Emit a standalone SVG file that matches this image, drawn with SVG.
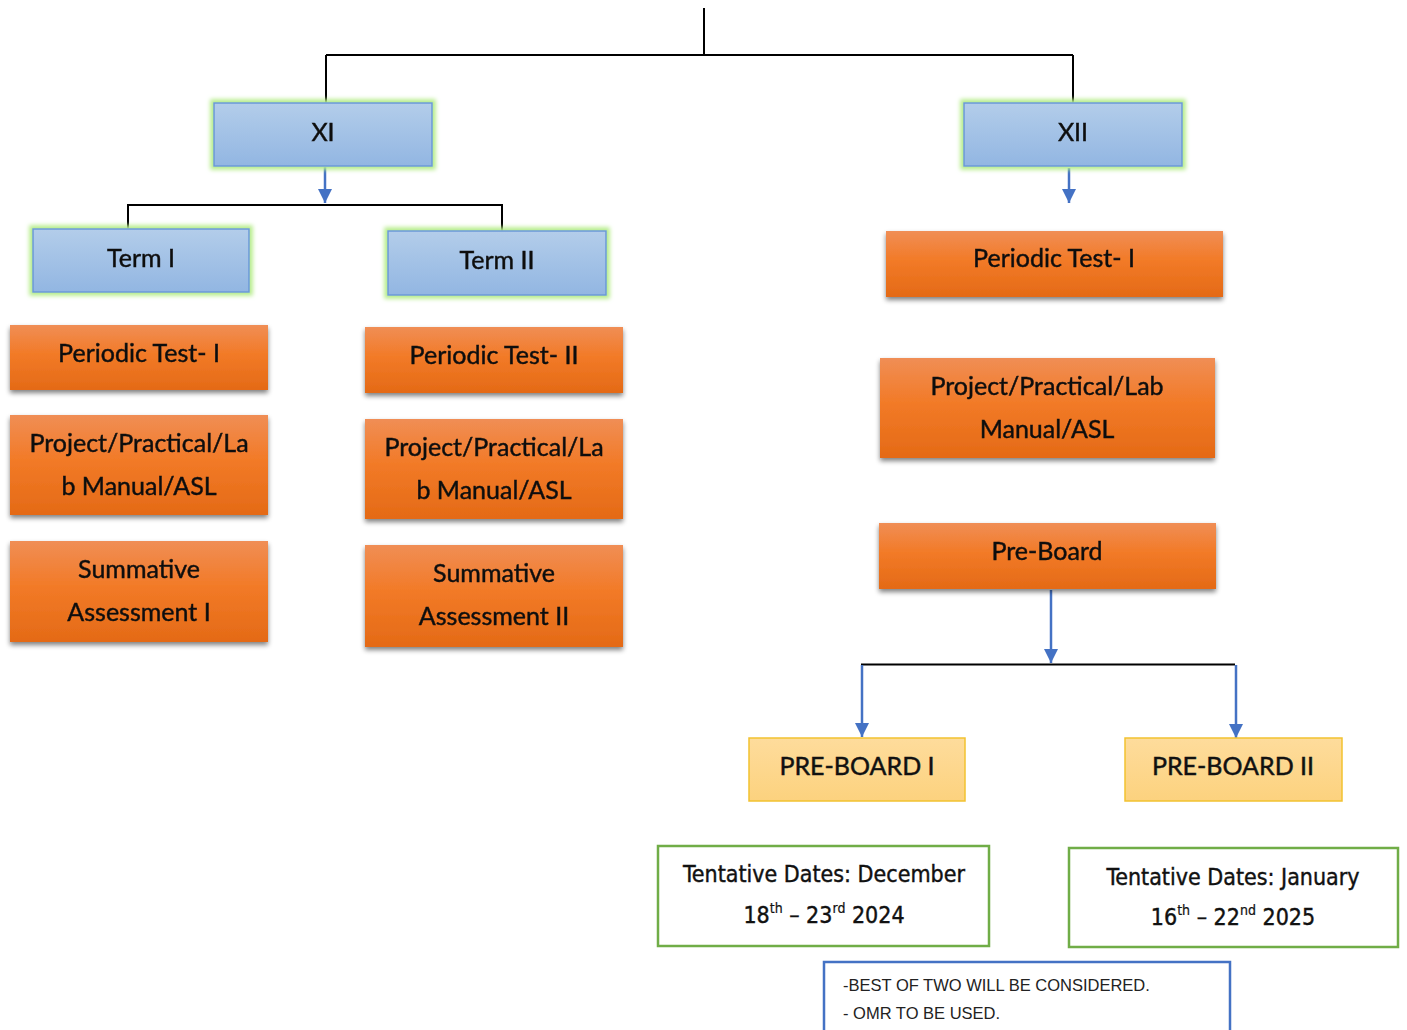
<svg xmlns="http://www.w3.org/2000/svg" width="1407" height="1030" viewBox="0 0 1407 1030">
<defs>
<linearGradient id="gBlue" x1="0" y1="0" x2="0" y2="1"><stop offset="0" stop-color="#b3cdea"/><stop offset="1" stop-color="#92b6e2"/></linearGradient>
<linearGradient id="gOr" x1="0" y1="0" x2="0" y2="1"><stop offset="0" stop-color="#f08e55"/><stop offset="0.45" stop-color="#f27a27"/><stop offset="1" stop-color="#e46a16"/></linearGradient>
<linearGradient id="gYel" x1="0" y1="0" x2="0" y2="1"><stop offset="0" stop-color="#fedc9c"/><stop offset="1" stop-color="#fcd27e"/></linearGradient>
<filter id="glow" x="-10%" y="-20%" width="120%" height="140%"><feMorphology in="SourceAlpha" operator="dilate" radius="3" result="d"/><feGaussianBlur in="d" stdDeviation="2" result="b"/><feFlood flood-color="#b5ec8a"/><feComposite in2="b" operator="in" result="g"/><feMerge><feMergeNode in="g"/><feMergeNode in="SourceGraphic"/></feMerge></filter>
<filter id="shadow" x="-5%" y="-10%" width="110%" height="130%"><feGaussianBlur in="SourceAlpha" stdDeviation="2.5"/><feOffset dx="0" dy="3" result="o"/><feComponentTransfer><feFuncA type="linear" slope="0.5"/></feComponentTransfer><feMerge><feMergeNode/><feMergeNode in="SourceGraphic"/></feMerge></filter>
<marker id="ah" viewBox="0 0 10 10" refX="10" refY="5" markerWidth="14" markerHeight="15" markerUnits="userSpaceOnUse" orient="auto"><path d="M0,0 L10,5 L0,10 z" fill="#4472c4"/></marker>
</defs>
<style>
.t{font-family:Lato,"Open Sans","Liberation Sans",sans-serif;font-size:25px;fill:#111;stroke:#111;stroke-width:0.45;text-anchor:middle}
.blue{fill:url(#gBlue);stroke:#6a98d8;stroke-width:1.5}
.or{fill:url(#gOr)}
.yel{fill:url(#gYel);stroke:#f2c230;stroke-width:1.5}
.grn{fill:#fff;stroke:#70ad47;stroke-width:2.5}
.k{stroke:#000;stroke-width:2;fill:none}
.b{stroke:#4472c4;stroke-width:2.5;fill:none;marker-end:url(#ah)}
.d{font-family:"DejaVu Sans Condensed","DejaVu Sans",sans-serif;font-size:23px;fill:#111;stroke:#111;stroke-width:0.4;text-anchor:middle}
.s{font-size:14px;stroke-width:0.2}
.n{font-family:"Liberation Sans",Arial,sans-serif;font-size:16.5px;fill:#222}
</style>
<rect width="1407" height="1030" fill="#fff"/>
<g id="connectors">
<path class="k" d="M704,8 V55 M326,55 H1073 M326,55 V103 M1073,55 V103"/>
<path class="b" d="M325,167 V203"/>
<path class="k" d="M128,205 H502 M128,204 V229 M502,204 V231"/>
<path class="b" d="M1069,168 V203"/>
<path class="b" d="M1051,590 V663"/>
<path class="k" d="M861,664.5 H1235"/>
<path class="b" d="M862,665 V737"/>
<path class="b" d="M1236,665 V738"/>
</g>
<g id="n-xi" filter="url(#glow)"><rect class="blue" x="214" y="103" width="218" height="63"/><text class="t" x="323" y="141">XI</text></g>
<g id="n-xii" filter="url(#glow)"><rect class="blue" x="964" y="103" width="218" height="63"/><text class="t" x="1073" y="141">XII</text></g>
<g id="n-term1" filter="url(#glow)"><rect class="blue" x="33" y="229" width="216" height="63"/><text class="t" x="141" y="267">Term I</text></g>
<g id="n-term2" filter="url(#glow)"><rect class="blue" x="388" y="231" width="218" height="64"/><text class="t" x="497" y="269">Term II</text></g>
<g id="n-pt1" filter="url(#shadow)"><rect class="or" x="10" y="325" width="258" height="65"/><text class="t" x="139" y="362">Periodic Test- I</text></g>
<g id="n-proj1" filter="url(#shadow)"><rect class="or" x="10" y="415" width="258" height="100"/><text class="t" x="139" y="452">Project/Practical/La</text><text class="t" x="139" y="495">b Manual/ASL</text></g>
<g id="n-sa1" filter="url(#shadow)"><rect class="or" x="10" y="541" width="258" height="101"/><text class="t" x="139" y="578">Summative</text><text class="t" x="139" y="621">Assessment I</text></g>
<g id="n-pt2" filter="url(#shadow)"><rect class="or" x="365" y="327" width="258" height="66"/><text class="t" x="494" y="364">Periodic Test- II</text></g>
<g id="n-proj2" filter="url(#shadow)"><rect class="or" x="365" y="419" width="258" height="100"/><text class="t" x="494" y="456">Project/Practical/La</text><text class="t" x="494" y="499">b Manual/ASL</text></g>
<g id="n-sa2" filter="url(#shadow)"><rect class="or" x="365" y="545" width="258" height="102"/><text class="t" x="494" y="582">Summative</text><text class="t" x="494" y="625">Assessment II</text></g>
<g id="n-pt12" filter="url(#shadow)"><rect class="or" x="886" y="231" width="337" height="66"/><text class="t" x="1054" y="267">Periodic Test- I</text></g>
<g id="n-proj12" filter="url(#shadow)"><rect class="or" x="880" y="358" width="335" height="100"/><text class="t" x="1047" y="395">Project/Practical/Lab</text><text class="t" x="1047" y="438">Manual/ASL</text></g>
<g id="n-preboard" filter="url(#shadow)"><rect class="or" x="879" y="523" width="337" height="66"/><text class="t" x="1047" y="560">Pre-Board</text></g>
<g id="n-pb1"><rect class="yel" x="749" y="738" width="216" height="63"/><text class="t" x="857" y="775">PRE-BOARD I</text></g>
<g id="n-pb2"><rect class="yel" x="1125" y="738" width="217" height="63"/><text class="t" x="1233" y="775">PRE-BOARD II</text></g>
<g id="n-date1"><rect class="grn" x="658" y="846" width="331" height="100"/><text class="d" x="824" y="882">Tentative Dates: December</text><text class="d" x="824" y="923">18<tspan class="s" dy="-10">th</tspan><tspan dy="10"> – 23</tspan><tspan class="s" dy="-10">rd</tspan><tspan dy="10"> 2024</tspan></text></g>
<g id="n-date2"><rect class="grn" x="1069" y="848" width="329" height="99"/><text class="d" x="1233" y="885">Tentative Dates: January</text><text class="d" x="1233" y="925">16<tspan class="s" dy="-10">th</tspan><tspan dy="10"> – 22</tspan><tspan class="s" dy="-10">nd</tspan><tspan dy="10"> 2025</tspan></text></g>
<g id="n-note"><path d="M824,1030 V962 H1230 V1030" fill="#fff" stroke="#4472c4" stroke-width="2.5"/><text class="n" x="843" y="991">-BEST OF TWO WILL BE CONSIDERED.</text><text class="n" x="843" y="1019">- OMR TO BE USED.</text></g>
</svg>
